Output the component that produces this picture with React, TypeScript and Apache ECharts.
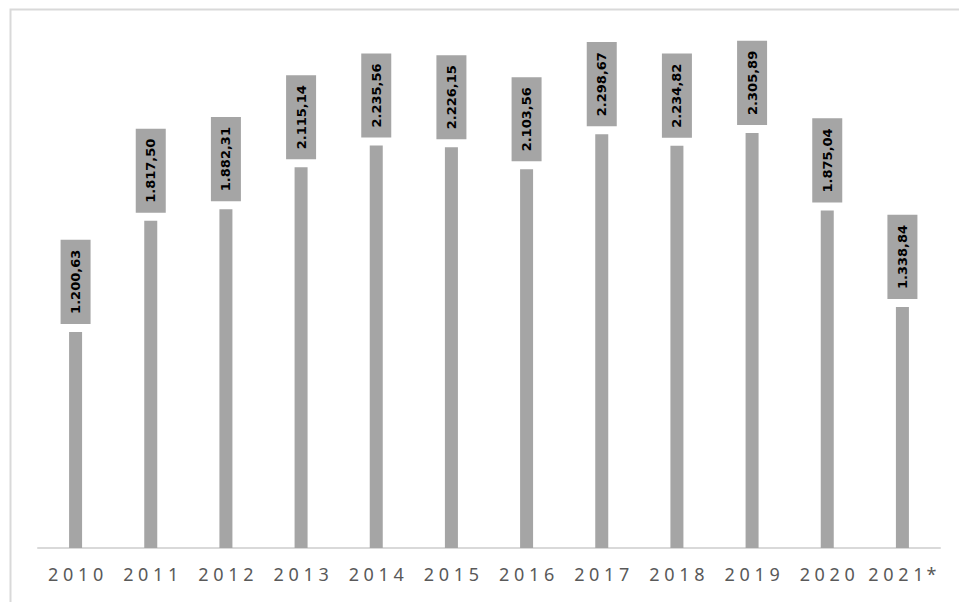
import React, { useEffect, useRef } from "react";
import * as echarts from "echarts";

const categories = ["2010", "2011", "2012", "2013", "2014", "2015", "2016", "2017", "2018", "2019", "2020", "2021*"];
const values = [1200.63, 1817.5, 1882.31, 2115.14, 2235.56, 2226.15, 2103.56, 2298.67, 2234.82, 2305.89, 1875.04, 1338.84];

function fmt(v: number): string {
  const fixed = v.toFixed(2);
  const [intPart, dec] = fixed.split(".");
  const withDots = intPart.replace(/\B(?=(\d{3})+(?!\d))/g, ".");
  return withDots + "," + dec;
}

function spaced(v: string): string {
  const digits = v.replace("*", "");
  const star = v.endsWith("*") ? "\u2009*" : "";
  return digits.split("").join(" ") + star;
}

export default function App() {
  const ref = useRef<HTMLDivElement>(null);
  useEffect(() => {
    if (!ref.current) return;
    const chart = echarts.init(ref.current, undefined, { renderer: "svg" });
    chart.setOption({
      animation: false,
      backgroundColor: "#ffffff",
      graphic: [
        {
          type: "rect",
          left: 8,
          top: 7,
          shape: { width: 1200, height: 1200 },
          style: { fill: "none", stroke: "#d9d9d9", lineWidth: 2 },
          silent: true,
        },
      ],
      grid: { left: 38, right: 19, top: 44, bottom: 54 },
      xAxis: {
        type: "category",
        data: categories,
        axisLine: { show: true, lineStyle: { color: "#d9d9d9", width: 2 } },
        axisTick: { show: false },
        axisLabel: {
          interval: 0,
          color: "#595959",
          fontSize: 18,
          fontFamily: "Noto Sans",
          margin: 17,
          formatter: (v: string) => spaced(v),
        },
      },
      yAxis: {
        type: "value",
        min: 0,
        max: 2800,
        show: false,
        splitLine: { show: false },
      },
      series: [
        {
          type: "bar",
          data: values,
          barWidth: 13,
          itemStyle: { color: "#a5a5a5" },
          label: {
            show: true,
            position: "top",
            distance: 8,
            rotate: 90,
            align: "left",
            verticalAlign: "middle",
            formatter: (p: any) => fmt(p.value),
            fontFamily: "DejaVu Sans",
            fontWeight: "bold",
            fontSize: 13,
            color: "#000000",
            backgroundColor: "#a5a5a5",
            padding: [8, 10, 8, 10],
            lineHeight: 14,
          },
        },
      ],
    });
    return () => chart.dispose();
  }, []);
  return (
    <div
      ref={ref}
      style={{ position: "absolute", left: 0, top: 0, width: 959, height: 602 }}
    />
  );
}
